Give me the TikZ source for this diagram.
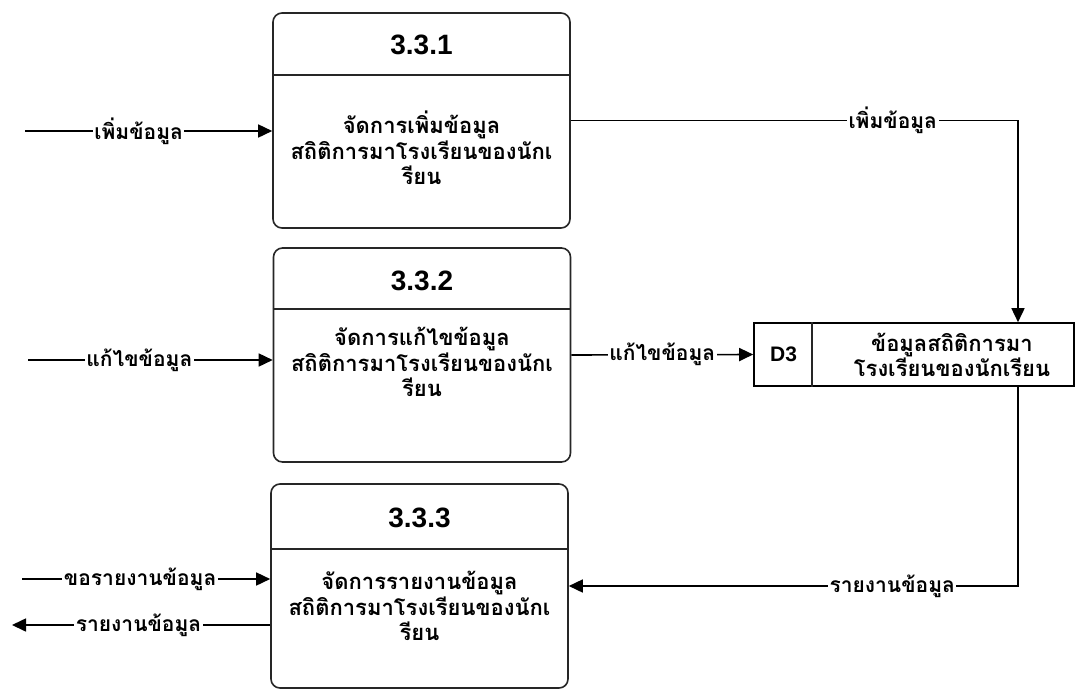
\documentclass[tikz,border=0pt]{standalone}
\usepackage{fontspec}
\setmainfont{Liberation Sans}
\newfontfamily\thaifont[Script=Thai]{Loma}
\usetikzlibrary{arrows.meta}

\tikzset{
  proc/.style={draw=black!85, line width=1.6pt, rounded corners=9pt, minimum width=297pt, inner sep=0pt},
  divline/.style={draw=black!85, line width=1.6pt},
  ptitle/.style={font=\fontsize{28}{32}\selectfont\bfseries},
  ptext/.style={align=center, font=\thaifont\bfseries\fontsize{22}{25.5}\selectfont},
  flow/.style={line width=1.6pt, -{Triangle[length=14pt,width=13pt]}},
  flowlabel/.style={fill=white, inner sep=1.5pt, font=\thaifont\bfseries\fontsize{21}{24}\selectfont},
}

\begin{document}
\begin{tikzpicture}[x=1pt, y=-1pt]
    \useasboundingbox (0,0) rectangle (1076,691);

    % Process 3.3.1
    \node[proc, minimum height=215pt] (p1) at (421.5,120.5) {};
    \draw[divline] ([yshift=-63pt]p1.north west) -- ([yshift=-63pt]p1.north east);
    \node[ptitle] (t1) at (421.5,45) {3.3.1};
    \node[ptext] (x1) at (421.5,148) {จัดการเพิ่มข้อมูล\\สถิติการมาโรงเรียนของนักเ\\รียน};

    % Process 3.3.2
    \node[proc, minimum height=214pt] (p2) at (422,355) {};
    \draw[divline] ([yshift=-62pt]p2.north west) -- ([yshift=-62pt]p2.north east);
    \node[ptitle] (t2) at (422,281) {3.3.2};
    \node[ptext] (x2) at (422,362) {จัดการแก้ไขข้อมูล\\สถิติการมาโรงเรียนของนักเ\\รียน};

    % Process 3.3.3
    \node[proc, minimum height=204pt] (p3) at (419.5,586) {};
    \draw[divline] ([yshift=-66pt]p3.north west) -- ([yshift=-66pt]p3.north east);
    \node[ptitle] (t3) at (419.5,518) {3.3.3};
    \node[ptext] (x3) at (419.5,606) {จัดการรายงานข้อมูล\\สถิติการมาโรงเรียนของนักเ\\รียน};

    % Data store D3
    \node[draw, line width=1.6pt, minimum width=320pt, minimum height=63pt] (d3) at (914,354.5) {};
    \draw[divline] ([xshift=59pt]d3.north west) -- ([xshift=59pt]d3.south west);
    \node[font=\fontsize{21}{24}\selectfont\bfseries] (d3id) at (783.5,354.5) {D3};
    \node[ptext] (d3name) at (952,355) {ข้อมูลสถิติการมา\\โรงเรียนของนักเรียน};

    % External flows
    \coordinate (in1) at (25,131);
    \coordinate (in2) at (28,360);
    \coordinate (in3) at (22,579);
    \coordinate (out3) at (12,625);
    \draw[flow] (in1) -- (in1 -| p1.west) node[flowlabel, pos=0.46] {เพิ่มข้อมูล};
    \draw[flow] (in2) -- (in2 -| p2.west) node[flowlabel, pos=0.455] {แก้ไขข้อมูล};
    \draw[flow] (in3) -- (in3 -| p3.west) node[flowlabel, pos=0.476] {ขอรายงานข้อมูล};
    \draw[flow] (out3 -| p3.west) -- (out3) node[flowlabel, pos=0.51] {รายงานข้อมูล};

    % Store flows
    \draw[flow] (p1.east) -| ([xshift=104pt]d3.north) node[flowlabel, pos=0.36] {เพิ่มข้อมูล};
    \draw[flow] (p2.east) -- (d3.west) node[flowlabel, midway] {แก้ไขข้อมูล};
    \draw[flow] ([xshift=104pt]d3.south) |- (p3.east) node[flowlabel, pos=0.64] {รายงานข้อมูล};
\end{tikzpicture}
\end{document}
